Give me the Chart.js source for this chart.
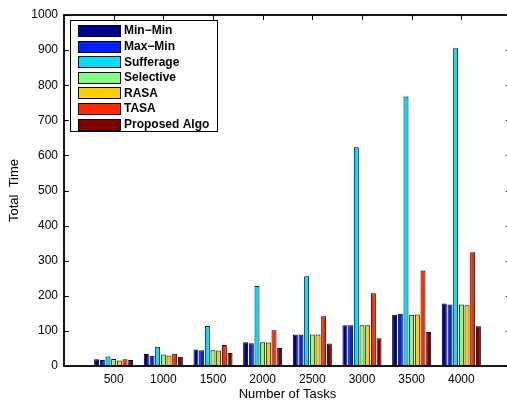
<!DOCTYPE html>
<html>
<head>
<meta charset="utf-8">
<script src="https://cdn.jsdelivr.net/npm/chart.js@4/dist/chart.umd.min.js"></script>
<style>
  html, body { margin: 0; padding: 0; background: #fff; overflow: hidden; }
  #wrap { width: 507px; height: 402px; overflow: hidden; }
  #chart { display: block; }
</style>
</head>
<body>
<div id="wrap"><canvas id="chart" width="511" height="402"></canvas></div>
<script>
// categories (blank slots at both ends so the axis runs 0..9 like MATLAB)
var tasks = ['500', '1000', '1500', '2000', '2500', '3000', '3500', '4000'];
var yTicks = [0, 100, 200, 300, 400, 500, 600, 700, 800, 900, 1000];

// series values
var minMin    = [19, 34, 47, 68, 90, 116, 146, 178];
var maxMin    = [17, 29, 45, 65, 90, 116, 149, 175];
var sufferage = [27, 55, 114, 228, 256, 623, 768, 905];
var selective = [20, 33, 45, 68, 90, 116, 146, 175];
var rasa      = [16, 30, 44, 67, 90, 116, 147, 173];
var tasa      = [19, 35, 60, 102, 142, 207, 272, 324];
var proposed  = [17, 26, 37, 51, 64, 79, 97, 113];

var seriesNames  = ['Min\u2212Min', 'Max\u2212Min', 'Sufferage', 'Selective', 'RASA', 'TASA', 'Proposed Algo'];
var seriesValues = [minMin, maxMin, sufferage, selective, rasa, tasa, proposed];
var seriesColors = ['#00008F', '#0020FF', '#00DFFF', '#80FF80', '#FFCF00', '#FF2A00', '#800000'];

var FONT = '"Liberation Sans", Arial, Helvetica, sans-serif';

// pad with empty slots
function pad(arr) { return [null].concat(arr).concat([null]); }

var datasets = seriesNames.map(function(name, i) {
  return {
    label: name,
    data: pad(seriesValues[i]),
    backgroundColor: seriesColors[i],
    borderColor: '#000',
    borderWidth: 1,
    borderSkipped: false,
    categoryPercentage: 0.8,
    barPercentage: 0.88
  };
});

// MATLAB style box, inward ticks, legend inside the axes
var matlabAxes = {
  id: 'matlabAxes',
  beforeDatasetsDraw: function(chart) {
    var ctx = chart.ctx, a = chart.chartArea;
    var xs = chart.scales.x, ys = chart.scales.y;
    ctx.save();
    ctx.strokeStyle = '#000';
    ctx.lineWidth = 1;
    ctx.beginPath();
    yTicks.forEach(function(v) {
      var y = Math.round(ys.getPixelForValue(v)) + 0.5;
      ctx.moveTo(a.left, y); ctx.lineTo(a.left + 5, y);
      ctx.moveTo(a.right, y); ctx.lineTo(a.right - 5, y);
    });
    tasks.forEach(function(t, i) {
      var x = Math.round(xs.getPixelForValue(i + 1)) + 0.5;
      ctx.moveTo(x, a.top); ctx.lineTo(x, a.top + 5);
      ctx.moveTo(x, a.bottom); ctx.lineTo(x, a.bottom - 5);
    });
    ctx.stroke();
    ctx.restore();
  },
  afterDatasetsDraw: function(chart) {
    var ctx = chart.ctx, a = chart.chartArea;
    ctx.save();
    // box
    ctx.strokeStyle = '#000';
    ctx.lineWidth = 1.8;
    ctx.strokeRect(a.left, a.top, a.right - a.left, a.bottom - a.top);

    // legend
    var lx = 70, ly = 20, lw = 147, lh = 111, step = 15.6;
    ctx.fillStyle = '#fff';
    ctx.fillRect(lx, ly, lw, lh);
    ctx.lineWidth = 1;
    ctx.strokeRect(lx + 0.5, ly + 0.5, lw, lh);
    ctx.font = 'bold 12px ' + FONT;
    ctx.textBaseline = 'middle';
    ctx.textAlign = 'left';
    chart.data.datasets.forEach(function(ds, i) {
      var cy = 30.5 + i * step;
      ctx.fillStyle = ds.backgroundColor;
      ctx.fillRect(78.5, Math.round(cy - 5.5) + 0.5, 42, 11);
      ctx.strokeStyle = '#000';
      ctx.strokeRect(78.5, Math.round(cy - 5.5) + 0.5, 42, 11);
      ctx.fillStyle = '#000';
      ctx.fillText(ds.label, 124, cy + 0.5);
    });
    ctx.restore();
  }
};

var config = {
  type: 'bar',
  data: {
    labels: [''].concat(tasks).concat(['']),
    datasets: datasets
  },
  options: {
    responsive: false,
    animation: false,
    layout: { padding: { top: 15, right: 0, left: 0, bottom: 0 } },
    plugins: {
      legend: { display: false },
      tooltip: { enabled: false }
    },
    scales: {
      x: {
        offset: false,
        grid: { display: false, drawTicks: false },
        border: { display: false },
        ticks: {
          autoSkip: false, maxRotation: 0, padding: 6,
          color: '#000', font: { family: FONT, size: 12 }
        },
        title: {
          display: true, text: 'Number of Tasks', color: '#000',
          font: { family: FONT, size: 13 }, padding: { top: 0, bottom: 0 }
        },
        afterFit: function(s) { s.height = 36; s.paddingLeft = 0; s.paddingRight = 0; }
      },
      y: {
        min: 0, max: 1000,
        grid: { display: false, drawTicks: false },
        border: { display: false },
        ticks: {
          stepSize: 100, padding: 6,
          color: '#000', font: { family: FONT, size: 12 },
          callback: function(v) { return String(v); }
        },
        title: {
          display: true, text: 'Total  Time', color: '#000',
          font: { family: FONT, size: 13 }, padding: { top: 7, bottom: 0 }
        },
        afterFit: function(s) { s.width = 64; s.paddingTop = 0; s.paddingBottom = 0; }
      }
    }
  },
  plugins: [matlabAxes]
};

var ctx = document.getElementById('chart').getContext('2d');
window.bars = new Chart(ctx, config);
</script>
</body>
</html>
